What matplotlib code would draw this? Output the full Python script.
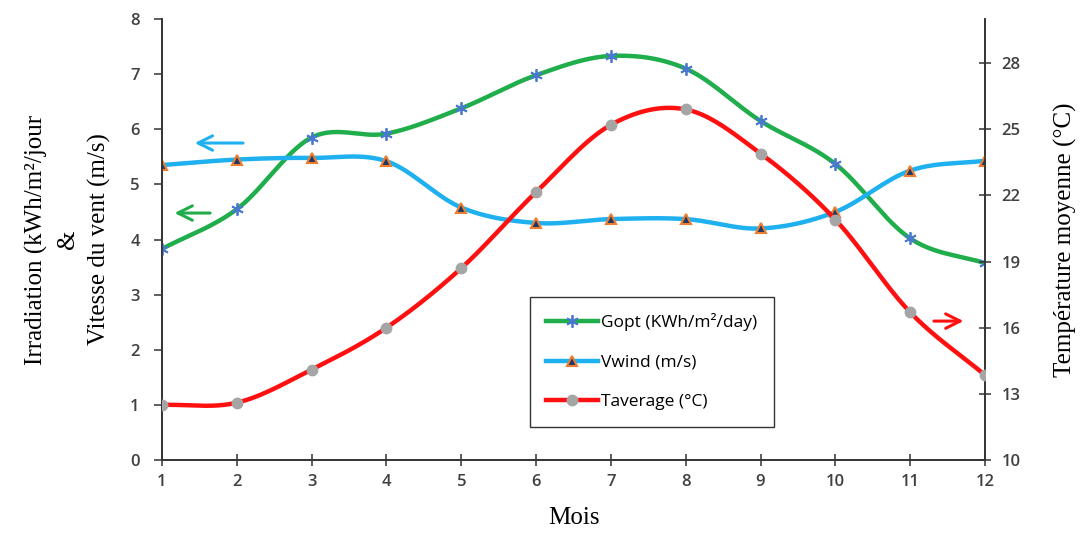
import numpy as np
import matplotlib
matplotlib.use("Agg")
import matplotlib.pyplot as plt
from matplotlib.lines import Line2D

# data
months = [1, 2, 3, 4, 5, 6, 7, 8, 9, 10, 11, 12]
gopt = [3.83, 4.55, 5.85, 5.92, 6.38, 6.98, 7.33, 7.10, 6.15, 5.37, 4.02, 3.57]
vwind = [5.35, 5.45, 5.48, 5.42, 4.58, 4.30, 4.37, 4.37, 4.20, 4.50, 5.25, 5.43]
taverage = [12.5, 12.6, 14.1, 16.0, 18.7, 22.15, 25.2, 25.9, 23.9, 20.9, 16.7, 13.85]


def smooth(x, y, n=30):
    # Excel-like smoothed line (Catmull-Rom through the points)
    x = np.asarray(x, float)
    y = np.asarray(y, float)
    px = np.concatenate([[2 * x[0] - x[1]], x, [2 * x[-1] - x[-2]]])
    py = np.concatenate([[2 * y[0] - y[1]], y, [2 * y[-1] - y[-2]]])
    xs, ys = [], []
    t = np.linspace(0, 1, n)
    for i in range(1, len(px) - 2):
        for p, out in ((px, xs), (py, ys)):
            p0, p1, p2, p3 = p[i - 1], p[i], p[i + 1], p[i + 2]
            out.extend(0.5 * ((2 * p1) + (-p0 + p2) * t
                              + (2 * p0 - 5 * p1 + 4 * p2 - p3) * t ** 2
                              + (-p0 + 3 * p1 - 3 * p2 + p3) * t ** 3))
    return np.array(xs), np.array(ys)


serif = "Liberation Serif"
tickfont = "Open Sans"

fig = plt.figure(figsize=(10.83, 5.43), dpi=100)
ax = fig.add_axes([162 / 1083, 1 - 460 / 543, 823 / 1083, 441 / 543])
ax2 = ax.twinx()

green = "#1FAE4B"
blue = "#1FB0F0"
red = "#FF1010"

sx, sy = smooth(months, gopt)
ax.plot(sx, sy, color=green, lw=3.2, zorder=3)
ax.plot(months, gopt, ls="none", marker=(6, 2, 0), ms=9, mew=1.3,
        color="#4A78D0", zorder=4)
sx, sy = smooth(months, vwind)
ax.plot(sx, sy, color=blue, lw=3.2, zorder=3)
ax.plot(months, vwind, ls="none", marker="^", ms=7.5, mfc="#1F3864",
        mec="#ED7D31", mew=1.5, zorder=4)
sx, sy = smooth(months, taverage)
ax2.plot(sx, sy, color=red, lw=3.2, zorder=3)
ax2.plot(months, taverage, ls="none", marker="o", ms=7.5, color="#A5A5A5",
         zorder=4)

# legend proxies
handles = [
    Line2D([], [], color=green, lw=3.2, marker=(6, 2, 0), ms=9, mew=1.3,
           mec="#4A78D0"),
    Line2D([], [], color=blue, lw=3.2, marker="^", ms=7.5, mfc="#1F3864",
           mec="#ED7D31", mew=1.5),
    Line2D([], [], color=red, lw=3.2, marker="o", ms=7.5, mfc="#A5A5A5",
           mec="#A5A5A5"),
]
labels = ["Gopt (KWh/m²/day)", "Vwind (m/s)", "Taverage (°C)"]
ax2.legend(handles, labels, loc="lower left", bbox_to_anchor=(0.447, 0.075),
           frameon=True, fancybox=False, edgecolor="#333333", framealpha=1,
           prop={"family": tickfont, "size": 12.5}, handlelength=3.0,
           handletextpad=0.15, labelspacing=1.35, borderpad=0.95,
           borderaxespad=0)

# arrows pointing to the relevant axis
arw = dict(arrowstyle="->", lw=2.2, mutation_scale=26)
ax.annotate("", xy=(1.40, 5.75), xytext=(2.12, 5.75),
            arrowprops=dict(arw, color=blue))
ax.annotate("", xy=(1.13, 4.48), xytext=(1.68, 4.48),
            arrowprops=dict(arw, color=green))
ax2.annotate("", xy=(11.75, 16.3), xytext=(11.28, 16.3),
             arrowprops=dict(arw, color=red))

ax.set_xlim(1, 12)
ax.set_ylim(0, 8)
ax2.set_ylim(10, 30)
ax.set_xticks(months)
ax.set_yticks(range(0, 9))
ax2.set_yticks([10, 13, 16, 19, 22, 25, 28])

for a in (ax, ax2):
    a.spines["top"].set_visible(False)
    for s in a.spines.values():
        s.set_color("#333333")
        s.set_linewidth(1.2)
    a.tick_params(colors="#333333", labelcolor="#404040", labelsize=12,
                  width=1.1, length=6)
    for lab in a.get_xticklabels() + a.get_yticklabels():
        lab.set_fontfamily(tickfont)
        lab.set_fontweight("semibold")
ax.tick_params(axis="y", pad=10)
ax2.tick_params(axis="y", direction="inout", length=8, pad=8)
ax.tick_params(axis="x", direction="inout", length=8, pad=6)

ax.set_xlabel("Mois", fontfamily=serif, fontsize=18, labelpad=12)
ax.set_ylabel("Irradiation (kWh/m²/jour\n&\nVitesse du vent (m/s)",
              fontfamily=serif, fontsize=18, linespacing=1.5, labelpad=14)
ax2.set_ylabel("Température moyenne (°C)", fontfamily=serif, fontsize=18,
               labelpad=24)

fig.savefig("out.png", dpi=100)
